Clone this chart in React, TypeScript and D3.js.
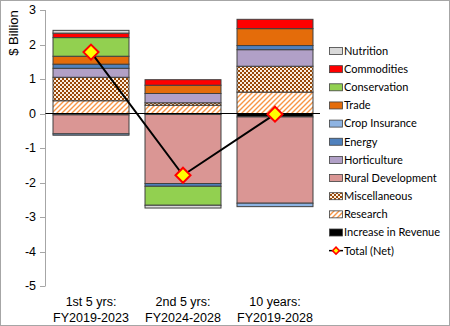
import React from "react";
import * as d3 from "d3";

const categories = ["1st 5 yrs:|FY2019-2023", "2nd 5 yrs:|FY2024-2028", "10 years:|FY2019-2028"];
const seriesNames = [
  "Increase in Revenue", "Research", "Miscellaneous", "Rural Development", "Horticulture",
  "Energy", "Crop Insurance", "Trade", "Conservation", "Commodities", "Nutrition",
];
const increaseInRevenue = [-0.04, -0.03, -0.1];
const research = [0.37, 0.24, 0.62];
const miscellaneous = [0.68, 0.07, 0.75];
const ruralDevelopment = [-0.55, -2.0, -2.5];
const horticulture = [0.26, 0.27, 0.48];
const energy = [0.12, -0.08, 0.12];
const cropInsurance = [-0.04, 0, -0.1];
const trade = [0.23, 0.24, 0.49];
const conservation = [0.54, -0.55, 0];
const commodities = [0.13, 0.16, 0.27];
const nutrition = [0.08, -0.08, 0];
const totalNet = [1.78, -1.79, -0.02];
const yTicks = [3, 2, 1, 0, -1, -2, -3, -4, -5];
const legendOrder = [
  "Nutrition", "Commodities", "Conservation", "Trade", "Crop Insurance", "Energy",
  "Horticulture", "Rural Development", "Miscellaneous", "Research", "Increase in Revenue",
];

const seriesValues: Record<string, number[]> = {
  "Increase in Revenue": increaseInRevenue,
  Research: research,
  Miscellaneous: miscellaneous,
  "Rural Development": ruralDevelopment,
  Horticulture: horticulture,
  Energy: energy,
  "Crop Insurance": cropInsurance,
  Trade: trade,
  Conservation: conservation,
  Commodities: commodities,
  Nutrition: nutrition,
};

const fills: Record<string, string> = {
  "Increase in Revenue": "#000000",
  Research: "url(#patResearch)",
  Miscellaneous: "url(#patMisc)",
  "Rural Development": "#da9694",
  Horticulture: "#b1a0c7",
  Energy: "#4f81bd",
  "Crop Insurance": "#8db3e2",
  Trade: "#e46c0a",
  Conservation: "#92d050",
  Commodities: "#ff0000",
  Nutrition: "#d9d9d9",
};

export default function App() {
  const W = 450, H = 326;
  const x = d3.scaleBand<string>().domain(categories).range([45, 321]).paddingInner(0.174).paddingOuter(0.087);
  const y = d3.scaleLinear().domain([-5, 3]).range([286, 10]);

  const table = categories.map((c, i) => {
    const row: any = { cat: c };
    seriesNames.forEach((s) => (row[s] = seriesValues[s][i]));
    return row;
  });
  const stacked = d3.stack<any>().keys(seriesNames).offset(d3.stackOffsetDiverging)(table);

  const line = d3.line<number>().x((_, i) => x(categories[i])! + x.bandwidth() / 2).y((d) => y(d));
  const diamond = (cx: number, cy: number, r: number) =>
    `M${cx},${cy - r}L${cx + r},${cy}L${cx},${cy + r}L${cx - r},${cy}Z`;

  const legendX = 329;
  const legendY0 = 51;
  const legendStep = 18.15;

  return (
    <svg width={W} height={H} style={{ position: "absolute", left: 0, top: 0 }}>
      <defs>
        <pattern id="patMisc" width="4" height="4" patternUnits="userSpaceOnUse">
          <rect width="4" height="4" fill="#fbeee0" />
          <rect x="0" y="0" width="2" height="2" fill="#984807" />
          <rect x="2" y="2" width="2" height="2" fill="#984807" />
        </pattern>
        <pattern id="patResearch" width="5" height="5" patternUnits="userSpaceOnUse">
          <rect width="5" height="5" fill="#ffffff" />
          <path d="M-1,1L1,-1M0,5L5,0M4,6L6,4" stroke="#f79646" strokeWidth="1.4" />
        </pattern>
      </defs>
      <rect x={0.5} y={0.5} width={W - 1} height={H - 1} fill="#fff" stroke="#a6a6a6" />

      {/* y axis */}
      <line x1={45.5} x2={45.5} y1={y(3)} y2={y(-5)} stroke="#a6a6a6" />
      {yTicks.map((t) => (
        <g key={t}>
          <line x1={40} x2={45.5} y1={Math.round(y(t)) + 0.5} y2={Math.round(y(t)) + 0.5} stroke="#a6a6a6" />
          <text x={36} y={y(t)} dy="0.35em" textAnchor="end" fontFamily="Liberation Sans, Arial" fontSize={12.5} fill="#000">
            {t}
          </text>
        </g>
      ))}
      <text
        transform={`translate(18,33) rotate(-90)`}
        textAnchor="middle"
        fontFamily="Liberation Sans, Arial"
        fontSize={13}
        fill="#000"
      >
        $ Billion
      </text>

      {/* bars */}
      {stacked.map((s) => (
        <g key={s.key}>
          {s.map((d, i) => {
            const v = d[1] - d[0];
            if (Math.abs(v) < 1e-9) return null;
            const y0 = y(Math.max(d[0], d[1]));
            const y1 = y(Math.min(d[0], d[1]));
            return (
              <rect
                key={i}
                x={x(categories[i])!}
                y={y0}
                width={x.bandwidth()}
                height={y1 - y0}
                fill={fills[s.key]}
                stroke="#404040"
                strokeWidth={1}
              />
            );
          })}
        </g>
      ))}

      {/* zero line */}
      <line x1={45.5} x2={320} y1={y(0)} y2={y(0)} stroke="#000" strokeWidth={1.2} />

      {/* total line */}
      <path d={line(totalNet)!} fill="none" stroke="#000" strokeWidth={2} />
      {totalNet.map((v, i) => (
        <path
          key={i}
          d={diamond(x(categories[i])! + x.bandwidth() / 2, y(v), 7.5)}
          fill="#ffff00"
          stroke="#ff0000"
          strokeWidth={2}
        />
      ))}

      {/* category labels */}
      {categories.map((c) => {
        const [a, b] = c.split("|");
        const cx = x(c)! + x.bandwidth() / 2;
        return (
          <text key={c} textAnchor="middle" fontFamily="Liberation Sans, Arial" fontSize={12.5} fill="#000">
            <tspan x={cx} y={306}>{a}</tspan>
            <tspan x={cx} y={322}>{b}</tspan>
          </text>
        );
      })}

      {/* legend */}
      {legendOrder.map((name, i) => {
        const cy = legendY0 + i * legendStep;
        return (
          <g key={name}>
            <rect x={legendX + 0.5} y={cy - 3.5} width={13} height={7} fill={fills[name]} stroke="#404040" strokeWidth={0.8} />
            <text x={legendX + 15} y={cy} dy="0.35em" fontFamily="Lato, Carlito, sans-serif" fontSize={11} fill="#000">
              {name}
            </text>
          </g>
        );
      })}
      {(() => {
        const cy = legendY0 + legendOrder.length * legendStep;
        return (
          <g>
            <line x1={legendX} x2={legendX + 14} y1={cy} y2={cy} stroke="#000" strokeWidth={1.5} />
            <path d={diamond(legendX + 7, cy, 3.5)} fill="#ffff00" stroke="#ff0000" strokeWidth={1.5} />
            <text x={legendX + 15} y={cy} dy="0.35em" fontFamily="Lato, Carlito, sans-serif" fontSize={11} fill="#000">
              Total (Net)
            </text>
          </g>
        );
      })()}
    </svg>
  );
}
